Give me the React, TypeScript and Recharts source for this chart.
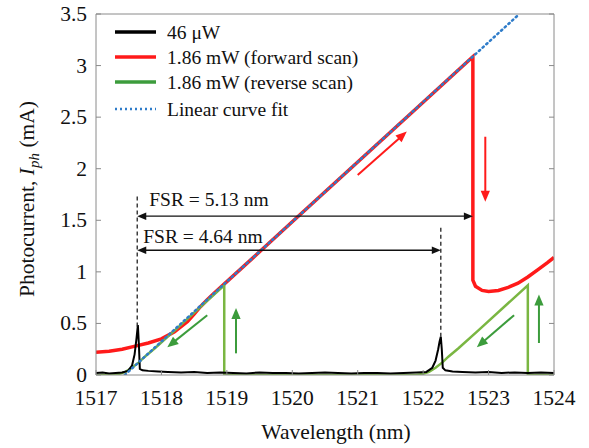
import React from "react";
import { LineChart, Line, XAxis, YAxis, ReferenceLine, Legend } from "recharts";

type Pt = [number, number];

const wavelengthTicks = [1517, 1518, 1519, 1520, 1521, 1522, 1523, 1524];
const currentTicks = [0, 0.5, 1, 1.5, 2, 2.5, 3, 3.5];

// 46 uW, low power sweep (mA)
const lowPowerScan: Pt[] = [
  [1517.0, 0.02], [1517.1, 0.025], [1517.2, 0.015], [1517.3, 0.02], [1517.4, 0.025],
  [1517.49, 0.04], [1517.55, 0.09], [1517.59, 0.2], [1517.62, 0.36], [1517.64, 0.485],
  [1517.655, 0.3], [1517.67, 0.06], [1517.71, 0.045], [1517.8, 0.04], [1517.95, 0.035],
  [1518.1, 0.03], [1518.3, 0.025], [1518.5, 0.03], [1518.7, 0.02], [1518.9, 0.025],
  [1519.1, 0.02], [1519.3, 0.015], [1519.5, 0.025], [1519.7, 0.02], [1519.9, 0.02],
  [1520.1, 0.015], [1520.3, 0.02], [1520.5, 0.025], [1520.7, 0.02], [1520.9, 0.015],
  [1521.1, 0.02], [1521.3, 0.02], [1521.5, 0.015], [1521.7, 0.02], [1521.9, 0.025],
  [1522.05, 0.03], [1522.14, 0.07], [1522.19, 0.14], [1522.23, 0.25], [1522.25, 0.32],
  [1522.27, 0.37], [1522.285, 0.25], [1522.3, 0.07], [1522.34, 0.045], [1522.45, 0.035],
  [1522.6, 0.03], [1522.8, 0.025], [1523.0, 0.03], [1523.2, 0.02], [1523.4, 0.025],
  [1523.6, 0.02], [1523.8, 0.025], [1524.0, 0.02],
];

// 1.86 mW forward scan
const forwardScan: Pt[] = [
  [1517.0, 0.22], [1517.2, 0.23], [1517.4, 0.25], [1517.6, 0.28], [1517.8, 0.31],
  [1518.0, 0.35], [1518.2, 0.42], [1518.4, 0.52], [1518.5, 0.59], [1518.6, 0.665],
  [1518.7, 0.73], [1518.8, 0.79], [1519.0, 0.905], [1520.0, 1.485], [1521.0, 2.065],
  [1522.0, 2.645], [1522.76, 3.085], [1522.76, 0.92], [1522.8, 0.86], [1522.9, 0.82],
  [1523.0, 0.81], [1523.15, 0.82], [1523.3, 0.85], [1523.45, 0.89], [1523.6, 0.95],
  [1523.75, 1.02], [1523.9, 1.09], [1524.0, 1.14],
];

// 1.86 mW reverse scan
const reverseScan: Pt[] = [
  [1517.0, 0], [1517.25, 0], [1517.35, 0.01], [1517.45, 0.03], [1517.55, 0.07],
  [1517.65, 0.12], [1517.75, 0.18], [1517.9, 0.26], [1518.2, 0.43], [1518.96, 0.87],
  [1518.96, 0], [1521.89, 0], [1521.99, 0.01], [1522.09, 0.03], [1522.19, 0.07],
  [1522.29, 0.12], [1522.39, 0.18], [1522.54, 0.26], [1522.84, 0.43], [1523.6, 0.87],
  [1523.6, 0], [1524.0, 0],
];

const linearFit: Pt[] = [[1517.44, 0], [1523.47, 3.5]];

const fsrSpans = [
  { from: 1517.63, to: 1522.76, at: 1.54, text: "FSR = 5.13 nm" },
  { from: 1517.63, to: 1522.27, at: 1.21, text: "FSR = 4.64 nm" },
];
const resonanceMarks = [
  { at: 1517.63, from: 0.47, to: 1.74 },
  { at: 1522.27, from: 0.37, to: 1.44 },
];
const redArrows: [Pt, Pt][] = [
  [[1521.0, 1.94], [1521.75, 2.36]],
  [[1522.95, 2.31], [1522.95, 1.68]],
];
const greenArrows: [Pt, Pt][] = [
  [[1519.14, 0.21], [1519.14, 0.65]],
  [[1523.77, 0.31], [1523.77, 0.78]],
  [[1518.7, 0.58], [1518.09, 0.27]],
  [[1523.39, 0.58], [1522.82, 0.27]],
];

const toRows = (pts: Pt[]) => pts.map(([x, y]) => ({ x, y }));

const SERIF = "'Liberation Serif', 'Times New Roman', serif";
const AXIS = "#8a8a8a";
const RED = "#ff1a1a";
const GREEN = "#7ab642";
const GREEN_DARK = "#3c9c3c";
const BLUE = "#2f7cc9";

const legendRows = [
  { label: "46 \u03bcW", color: "#000", dash: undefined as string | undefined },
  { label: "1.86 mW (forward scan)", color: RED, dash: undefined },
  { label: "1.86 mW (reverse scan)", color: GREEN_DARK, dash: undefined },
  { label: "Linear curve fit", color: BLUE, dash: "2 3" },
];

function BottomTick({ x, y, payload }: any) {
  return (
    <g>
      <line x1={x} y1={y} x2={x} y2={y - 5} stroke={AXIS} />
      <text x={x} y={y + 30} textAnchor="middle" fontFamily={SERIF} fontSize={21.5} fill="#111">
        {payload.value}
      </text>
    </g>
  );
}
function TopTick({ x, y }: any) {
  return <line x1={x} y1={y} x2={x} y2={y + 5} stroke={AXIS} />;
}
function LeftTick({ x, y, payload }: any) {
  return (
    <g>
      <line x1={x} y1={y} x2={x + 5} y2={y} stroke={AXIS} />
      <text x={x - 9} y={y + 7} textAnchor="end" fontFamily={SERIF} fontSize={21.5} fill="#111">
        {payload.value}
      </text>
    </g>
  );
}
function RightTick({ x, y }: any) {
  return <line x1={x} y1={y} x2={x - 5} y2={y} stroke={AXIS} />;
}

function YTitle() {
  return (
    <text x={34} y={199} transform="rotate(-90, 34, 199)" textAnchor="middle" fontFamily={SERIF} fontSize={21.5} fill="#111">
      Photocurrent,{" "}
      <tspan fontStyle="italic">I</tspan>
      <tspan fontStyle="italic" fontSize={15} dy={5}>ph</tspan>
      <tspan dy={-5}> (mA)</tspan>
    </text>
  );
}
function XTitle() {
  return (
    <text x={336} y={439} textAnchor="middle" fontFamily={SERIF} fontSize={21.5} fill="#111">
      Wavelength (nm)
    </text>
  );
}

function makeArrow(color: string, both: boolean, sw: number, head: number, text?: string, tdx = 0, tdy = 0) {
  return (p: any) => {
    const { x1, y1, x2, y2 } = p;
    const a = Math.atan2(y2 - y1, x2 - x1);
    const hw = head * 0.42;
    const tri = (tx: number, ty: number, ang: number) => {
      const bx = tx - head * Math.cos(ang);
      const by = ty - head * Math.sin(ang);
      return `${tx},${ty} ${bx + hw * Math.sin(ang)},${by - hw * Math.cos(ang)} ${bx - hw * Math.sin(ang)},${by + hw * Math.cos(ang)}`;
    };
    const sx = both ? x1 + head * 0.8 * Math.cos(a) : x1;
    const sy = both ? y1 + head * 0.8 * Math.sin(a) : y1;
    const ex = x2 - head * 0.8 * Math.cos(a);
    const ey = y2 - head * 0.8 * Math.sin(a);
    return (
      <g>
        <line x1={sx} y1={sy} x2={ex} y2={ey} stroke={color} strokeWidth={sw} />
        <polygon points={tri(x2, y2, a)} fill={color} />
        {both && <polygon points={tri(x1, y1, a + Math.PI)} fill={color} />}
        {text && (
          <text x={x1 + tdx} y={y1 + tdy} fontFamily={SERIF} fontSize={19.5} fill="#111">
            {text}
          </text>
        )}
      </g>
    );
  };
}

function LegendBox() {
  return (
    <svg width={270} height={105} style={{ display: "block" }}>
      {legendRows.map((r, i) => {
        const cy = 13 + i * 25 + (i === 3 ? 2 : 0);
        return (
          <g key={r.label}>
            <line
              x1={5}
              x2={46}
              y1={cy}
              y2={cy}
              stroke={r.color}
              strokeWidth={r.dash ? 2.5 : 3.5}
              strokeDasharray={r.dash}
            />
            <text x={57} y={cy + 7} fontFamily={SERIF} fontSize={19.5} fill="#111">
              {r.label}
            </text>
          </g>
        );
      })}
    </svg>
  );
}

export default function App() {
  return (
    <div style={{ position: "absolute", left: 0, top: 0, width: 589, height: 448, background: "#fff" }}>
      <LineChart width={589} height={448} margin={{ top: 13, right: 34, bottom: 72, left: 0 }}>
        <XAxis
          dataKey="x"
          type="number"
          domain={[1517, 1524]}
          ticks={wavelengthTicks}
          interval={0}
          height={1}
          tickSize={0}
          tickMargin={0}
          tickLine={false}
          stroke={AXIS}
          tick={<BottomTick />}
          label={<XTitle />}
          allowDataOverflow
        />
        <XAxis
          xAxisId="top"
          orientation="top"
          type="number"
          domain={[1517, 1524]}
          ticks={wavelengthTicks}
          interval={0}
          height={1}
          tickSize={0}
          tickMargin={0}
          tickLine={false}
          stroke={AXIS}
          tick={<TopTick />}
          allowDataOverflow
        />
        <YAxis
          dataKey="y"
          type="number"
          domain={[0, 3.5]}
          ticks={currentTicks}
          interval={0}
          width={96}
          tickSize={0}
          tickMargin={0}
          tickLine={false}
          stroke={AXIS}
          tick={<LeftTick />}
          label={<YTitle />}
          allowDataOverflow
        />
        <YAxis
          yAxisId="right"
          orientation="right"
          type="number"
          domain={[0, 3.5]}
          ticks={currentTicks}
          interval={0}
          width={1}
          tickSize={0}
          tickMargin={0}
          tickLine={false}
          stroke={AXIS}
          tick={<RightTick />}
          allowDataOverflow
        />
        <Legend
          layout="vertical"
          align="center"
          verticalAlign="middle"
          wrapperStyle={{ top: 19, left: 110, width: 270 }}
          content={() => <LegendBox />}
        />

        <Line data={toRows(forwardScan)} dataKey="y" name="1.86 mW (forward scan)" stroke={RED} strokeWidth={3.5} dot={false} isAnimationActive={false} />
        <Line data={toRows(reverseScan)} dataKey="y" name="1.86 mW (reverse scan)" stroke={GREEN} strokeWidth={2.5} dot={false} isAnimationActive={false} />
        <Line data={toRows(lowPowerScan)} dataKey="y" name="46 μW" stroke="#000" strokeWidth={2} dot={false} isAnimationActive={false} />
        <Line data={toRows(linearFit)} dataKey="y" name="Linear curve fit" stroke={BLUE} strokeWidth={2.5} strokeDasharray="1.5 3.5" strokeLinecap="round" dot={false} isAnimationActive={false} />

        {resonanceMarks.map((m, i) => (
          <ReferenceLine
            key={`res-${i}`}
            segment={[{ x: m.at, y: m.from }, { x: m.at, y: m.to }]}
            stroke="#222"
            strokeWidth={1.3}
            strokeDasharray="4 3"
          />
        ))}
        {fsrSpans.map((s, i) => (
          <ReferenceLine
            key={`fsr-${i}`}
            segment={[{ x: s.from, y: s.at }, { x: s.to, y: s.at }]}
            shape={makeArrow("#111", true, 1.4, 9, s.text, i === 0 ? 12 : 6, i === 0 ? -10 : -7)}
          />
        ))}
        {redArrows.map(([a, b], i) => (
          <ReferenceLine
            key={`ra-${i}`}
            segment={[{ x: a[0], y: a[1] }, { x: b[0], y: b[1] }]}
            shape={makeArrow(RED, false, 2, 11)}
          />
        ))}
        {greenArrows.map(([a, b], i) => (
          <ReferenceLine
            key={`ga-${i}`}
            segment={[{ x: a[0], y: a[1] }, { x: b[0], y: b[1] }]}
            shape={makeArrow(GREEN_DARK, false, 2, 11)}
          />
        ))}
      </LineChart>
    </div>
  );
}
